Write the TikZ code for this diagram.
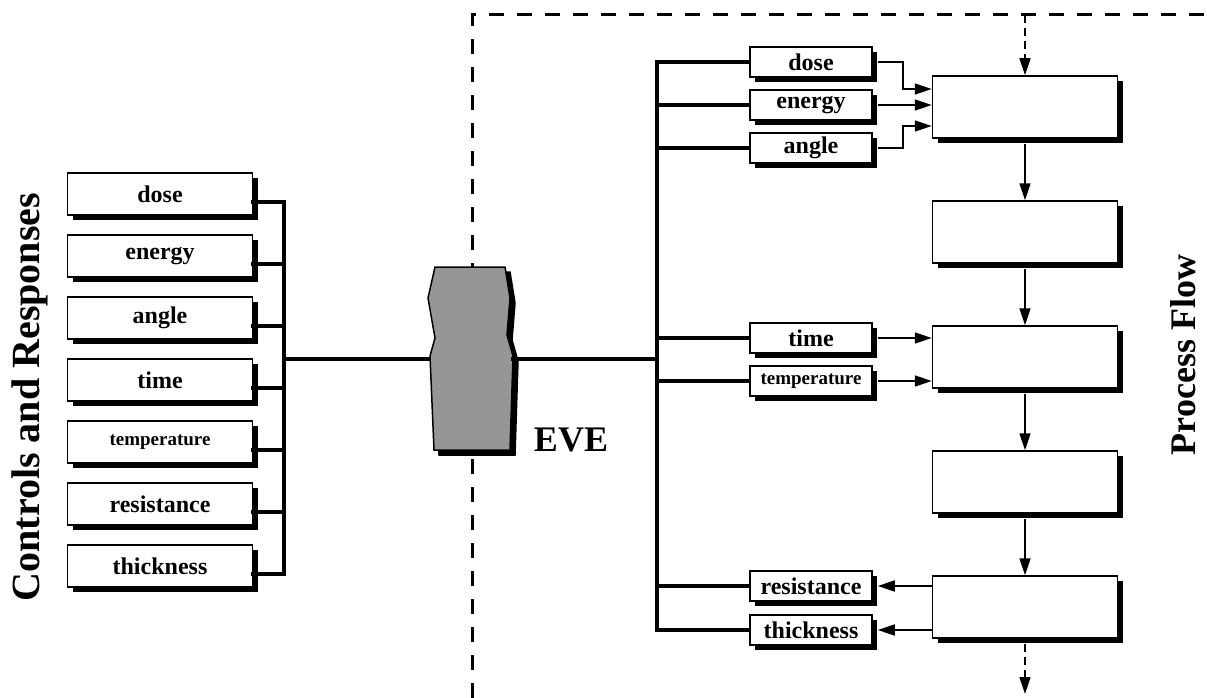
\documentclass[tikz,border=0pt]{standalone}
\usepackage{fontspec}
\setmainfont{Liberation Serif}
\usetikzlibrary{arrows.meta, shadows}
\definecolor{evegray}{RGB}{150, 150, 150}

\begin{document}
\begin{tikzpicture}[
    x=1pt, y=-1pt,
    ctrl/.style={draw, line width=1.5pt, fill=white, inner sep=0pt,
        minimum width=185pt, minimum height=42pt,
        font=\bfseries\fontsize{24}{24}\selectfont,
        drop shadow={shadow xshift=5pt, shadow yshift=-5pt, fill=black, opacity=1}},
    tag/.style={ctrl, minimum width=122pt, minimum height=30pt},
    stage/.style={ctrl, minimum height=62pt},
    bus/.style={line width=4pt, line cap=rect},
    flow/.style={line width=1.6pt, -{Triangle[length=17pt, width=11pt]}},
    border/.style={line width=3pt, dash pattern=on 15pt off 13pt}
]
    \useasboundingbox (0,0) rectangle (1207,698);

    % Frame of the process side
    \coordinate (corner) at (472,15);
    \coordinate (edge) at (1207,15);
    \coordinate (foot) at (472,698);
    \draw[border] (foot) -- (corner) -- (edge);

    % Controls and responses
    \foreach \name/\fs [count=\i] in {dose/24, energy/24, angle/24, time/24, temperature/19, resistance/24, thickness/24} {
        \pgfmathtruncatemacro{\y}{194 + 62*(\i-1)}
        \node[ctrl, font=\bfseries\fontsize{\fs}{\fs}\selectfont] (l-\name) at (160,\y) {\name};
        \coordinate (lj-\name) at ([yshift=-8pt]l-\name.east);
    }
    \coordinate (lbus) at (284,359);
    \foreach \name in {dose, energy, angle, time, temperature, resistance, thickness} {
        \draw[bus] (lj-\name) -- (lj-\name -| lbus);
    }
    \draw[bus] (lj-dose -| lbus) -- (lj-thickness -| lbus);

    % EVE
    \coordinate (eve) at (471,359);
    \coordinate (evew) at (430,359);
    \coordinate (evee) at (513,359);
    \draw[bus] (lbus) -- (evew);
    \begin{scope}[shift={(eve)}]
        \foreach \d/\c in {5/black, 0/evegray} {
            \filldraw[fill=\c, draw=black, line width=1.5pt, shift={(\d,\d)}]
                (-36,-92) -- (34,-92) -- (39,-61) -- (36,-24) -- (42,-3) -- (39,91)
                -- (-37,91) -- (-41,-3) -- (-36,-21) -- (-43,-61) -- cycle;
        }
    \end{scope}
    \node[font=\bfseries\fontsize{36}{36}\selectfont] (evename) at (571,440) {EVE};

    % Tags on the process side
    \foreach \name/\y/\fs in {dose/62/24, energy/105/24, angle/148/24, time/338/24, temperature/381/19, resistance/586/24, thickness/630/24} {
        \node[tag, font=\bfseries\fontsize{\fs}{\fs}\selectfont] (r-\name) at (811,\y) {\name};
    }
    \coordinate (rbus) at (657,359);
    \draw[bus] (evee) -- (rbus);
    \foreach \name in {dose, energy, angle, time, temperature, resistance, thickness} {
        \draw[bus] (r-\name.west -| rbus) -- (r-\name.west);
    }
    \draw[bus] (r-dose.west -| rbus) -- (r-thickness.west -| rbus);

    % Process flow
    \foreach \i in {1,...,5} {
        \pgfmathtruncatemacro{\y}{107 + 125*(\i-1)}
        \node[stage] (p\i) at (1025,\y) {};
    }
    \foreach \i in {1,...,4} {
        \pgfmathtruncatemacro{\j}{\i + 1}
        \draw[flow] ([yshift=-5pt]p\i.south) -- (p\j.north);
    }
    \coordinate (entry) at (1025,15);
    \coordinate (exit) at (1025,694);
    \draw[flow, dash pattern=on 8pt off 5pt] (entry) -- (p1.north);
    \draw[flow, dash pattern=on 8pt off 5pt] ([yshift=-5pt]p5.south) -- (exit);

    % Inputs and outputs
    \coordinate (fork) at (903,0);
    \draw[flow] ([xshift=5pt]r-dose.east) -- (r-dose.east -| fork) |- ([yshift=18pt]p1.west);
    \draw[flow] ([xshift=5pt]r-energy.east) -- (r-energy.east -| p1.west);
    \draw[flow] ([xshift=5pt]r-angle.east) -- (r-angle.east -| fork) |- ([yshift=-19pt]p1.west);
    \draw[flow] ([xshift=5pt]r-time.east) -- (r-time.east -| p3.west);
    \draw[flow] ([xshift=5pt]r-temperature.east) -- (r-temperature.east -| p3.west);
    \draw[flow] (r-resistance.east -| p5.west) -- ([xshift=5pt]r-resistance.east);
    \draw[flow] (r-thickness.east -| p5.west) -- ([xshift=5pt]r-thickness.east);

    % Titles
    \node[rotate=90, font=\bfseries\fontsize{40}{40}\selectfont] (ctrltitle) at (30,397) {Controls and Responses};
    \node[rotate=90, font=\bfseries\fontsize{36}{36}\selectfont] (flowtitle) at (1183,355) {Process Flow};
\end{tikzpicture}
\end{document}
